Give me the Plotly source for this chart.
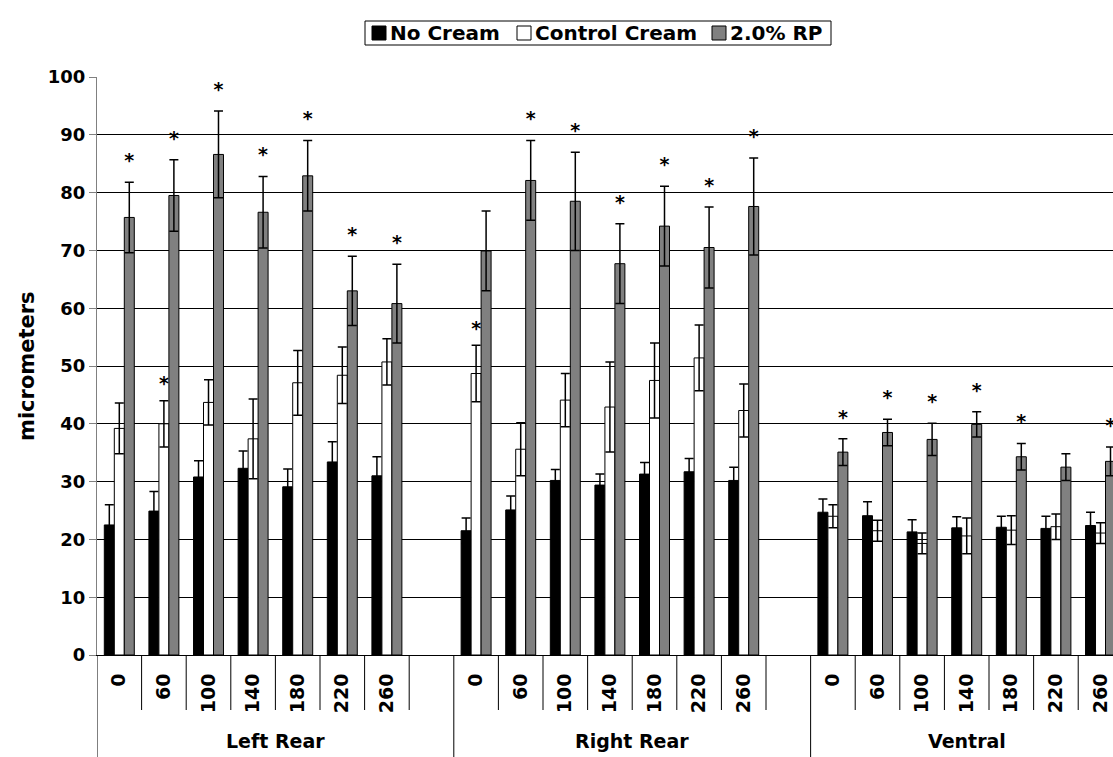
import plotly.graph_objects as go

# ---- data -------------------------------------------------------------
groups = ["Left Rear", "Right Rear", "Ventral"]
times = ["0", "60", "100", "140", "180", "220", "260"]
series_names = ["No Cream", "Control Cream", "2.0% RP"]

# mean thickness (micrometers) and error, ordered Left Rear, Right Rear, Ventral x times
no_cream_mean = [22.5, 24.9, 30.8, 32.3, 29.1, 33.4, 31.0,
                 21.5, 25.1, 30.2, 29.4, 31.3, 31.7, 30.2,
                 24.7, 24.1, 21.3, 22.0, 22.1, 21.9, 22.4]
no_cream_err = [3.5, 3.4, 2.8, 3.0, 3.1, 3.5, 3.3,
                2.2, 2.4, 1.9, 1.9, 2.0, 2.3, 2.3,
                2.3, 2.4, 2.1, 1.9, 1.9, 2.1, 2.3]

control_mean = [39.2, 40.0, 43.7, 37.4, 47.1, 48.4, 50.7,
                48.7, 35.6, 44.1, 42.9, 47.5, 51.4, 42.3,
                24.0, 21.5, 19.3, 20.6, 21.6, 22.2, 21.1]
control_err = [4.4, 4.0, 3.9, 6.9, 5.6, 4.9, 4.0,
               4.9, 4.6, 4.6, 7.8, 6.5, 5.7, 4.6,
               2.0, 1.8, 1.8, 3.1, 2.5, 2.2, 1.8]

rp_mean = [75.7, 79.5, 86.6, 76.6, 82.9, 63.0, 60.8,
           69.9, 82.1, 78.5, 67.7, 74.2, 70.5, 77.6,
           35.1, 38.5, 37.3, 39.9, 34.3, 32.5, 33.5]
rp_err = [6.1, 6.2, 7.5, 6.2, 6.1, 6.0, 6.8,
          6.9, 6.9, 8.5, 6.9, 6.9, 7.0, 8.4,
          2.3, 2.3, 2.8, 2.2, 2.3, 2.3, 2.5]

# significance markers (1 = asterisk above the bar)
control_sig = [0, 1, 0, 0, 0, 0, 0,
               1, 0, 0, 0, 0, 0, 0,
               0, 0, 0, 0, 0, 0, 0]
rp_sig = [1, 1, 1, 1, 1, 1, 1,
          0, 1, 1, 1, 1, 1, 1,
          1, 1, 1, 1, 1, 0, 1]

# ---- layout constants ---------------------------------------------------
W, H = 1113, 757
L, R, T, B = 97, 0, 77, 102
PLOT_W, PLOT_H = W - L - R, H - T - B
SLOTS_PER_GROUP = len(times) + 1          # one empty slot separates groups
BAR_W = 0.224
FONT = "DejaVu Sans"
X_MAX = 22.28


def px_x(p):
    return (p - L) / PLOT_W


def px_y(p):
    return (H - B - p) / PLOT_H


def bold(size):
    return dict(family=FONT, size=size, color="#000000", weight="bold")


xpos = [g * SLOTS_PER_GROUP + t for g in range(len(groups)) for t in range(len(times))]
xtext = [times[t] for g in range(len(groups)) for t in range(len(times))]

fig = go.Figure()

colors = ["#000000", "#ffffff", "#808080"]
means = [no_cream_mean, control_mean, rp_mean]
errs = [no_cream_err, control_err, rp_err]

for name, col, m, e in zip(series_names, colors, means, errs):
    fig.add_trace(go.Bar(
        name=name, x=xpos, y=m, showlegend=False,
        marker=dict(color=col, line=dict(color="#000000", width=1)),
        error_y=dict(type="data", array=e, visible=True,
                     color="#000000", thickness=1.5, width=4.5),
    ))

# asterisks above significant bars
for k, (m, e, sig, gap) in enumerate([(control_mean, control_err, control_sig, 1.0),
                                      (rp_mean, rp_err, rp_sig, 1.8)], start=1):
    xs, ys = [], []
    for xi, mi, ei, si in zip(xpos, m, e, sig):
        if si:
            xs.append(xi + (k - 1) * BAR_W)
            ys.append(mi + ei + gap)
    fig.add_trace(go.Scatter(
        x=xs, y=ys, mode="text", text=["*"] * len(xs),
        textposition="top center", showlegend=False, hoverinfo="skip",
        textfont=bold(19), cliponaxis=True,
    ))

# category divider lines below the axis
short_y = px_y(710)
long_y = px_y(H + 10)
shapes = []
for g in range(len(groups)):
    start = g * SLOTS_PER_GROUP - 0.5
    shapes.append(dict(type="line", xref="x", yref="paper", x0=start, x1=start,
                       y0=0, y1=long_y, line=dict(color="#000000", width=1)))
    for t in range(1, len(times) + 1):
        b = start + t
        if b <= X_MAX:
            shapes.append(dict(type="line", xref="x", yref="paper", x0=b, x1=b,
                               y0=0, y1=short_y, line=dict(color="#000000", width=1)))

annotations = []
for g, name in enumerate(groups):
    start = g * SLOTS_PER_GROUP - 0.5
    end = start + (SLOTS_PER_GROUP if g < len(groups) - 1 else len(times))
    annotations.append(dict(text=name, x=(start + end) / 2, xref="x",
                            y=px_y(741), yref="paper", showarrow=False,
                            xanchor="center", yanchor="middle", font=bold(19)))
annotations.append(dict(text="micrometers", textangle=-90, x=px_x(27), xref="paper",
                        y=0.5, yref="paper", showarrow=False,
                        xanchor="center", yanchor="middle", font=bold(21)))

# legend box with swatches and labels
LEG_X0, LEG_X1, LEG_Y0, LEG_Y1 = 365, 831, 21, 45
shapes.append(dict(type="rect", xref="paper", yref="paper",
                   x0=px_x(LEG_X0), x1=px_x(LEG_X1), y0=px_y(LEG_Y0), y1=px_y(LEG_Y1),
                   line=dict(color="#000000", width=1), fillcolor="#ffffff", layer="above"))
swatch_left = [372, 517, 712]
for name, col, sx in zip(series_names, colors, swatch_left):
    shapes.append(dict(type="rect", xref="paper", yref="paper",
                       x0=px_x(sx), x1=px_x(sx + 14), y0=px_y(26), y1=px_y(40),
                       line=dict(color="#000000", width=1), fillcolor=col, layer="above"))
    annotations.append(dict(text=name, x=px_x(sx + 16), xref="paper",
                            y=px_y(33), yref="paper", showarrow=False,
                            xanchor="left", yanchor="middle", font=bold(20)))

fig.update_layout(
    width=W, height=H,
    margin=dict(l=L, r=R, t=T, b=B, autoexpand=False),
    paper_bgcolor="#ffffff", plot_bgcolor="#ffffff",
    barmode="group", bargap=1 - 3 * BAR_W, bargroupgap=0,
    showlegend=False,
    shapes=shapes, annotations=annotations,
    xaxis=dict(range=[-0.5, X_MAX], showgrid=False, zeroline=False,
               showline=True, linecolor="#000000", linewidth=1,
               tickvals=xpos, ticktext=xtext, tickangle=-90, ticks="",
               ticklabelstandoff=10, tickfont=bold(19)),
    yaxis=dict(range=[0, 100], dtick=10, showgrid=True, gridcolor="#000000", gridwidth=1,
               zeroline=False, showline=True, linecolor="#808080", linewidth=1,
               ticks="outside", ticklen=7, tickcolor="#808080",
               tickfont=bold(18)),
)

fig.write_html("out.html")
